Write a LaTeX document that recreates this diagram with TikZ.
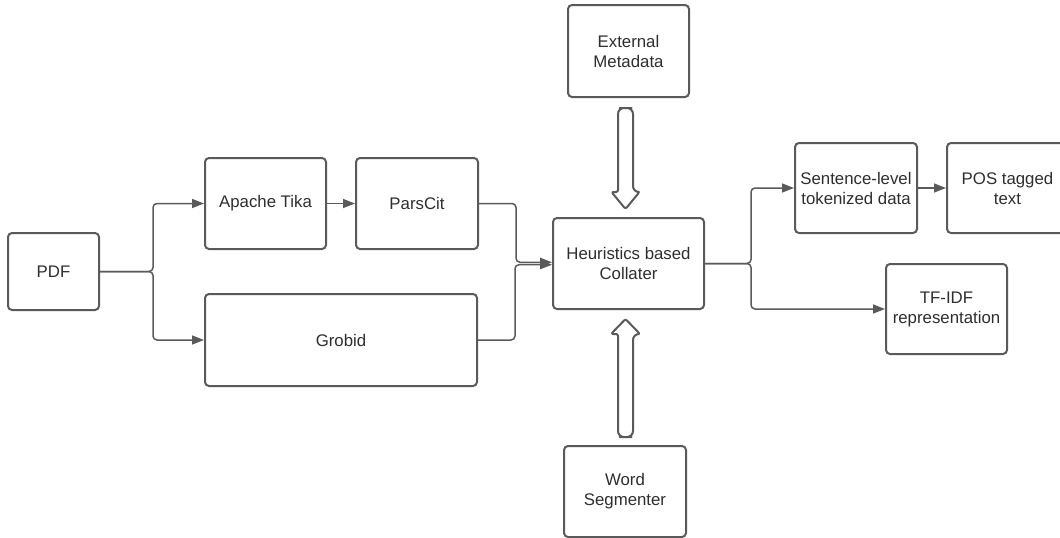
\documentclass[tikz,border=0pt]{standalone}
\usepackage{fontspec}
\setmainfont{Liberation Sans}
\usetikzlibrary{arrows.meta,calc}
\definecolor{linegray}{HTML}{5A5A5A}
\definecolor{textgray}{HTML}{2E2E2E}
\begin{document}
\begin{tikzpicture}[x=1pt,y=-1pt,
  box/.style={draw=linegray,line width=2pt,rounded corners=4pt,align=center,
    inner sep=2pt,text=textgray,font=\fontsize{16.8}{20}\selectfont},
  conn/.style={draw=linegray,line width=1.5pt,rounded corners=4pt,
    -{Triangle[length=12pt,width=9pt]}},
  hollow/.style={draw=linegray,line width=2pt,fill=white,line join=round}]
\useasboundingbox (0,0) rectangle (1060,538);
\node[box,minimum width=91pt,minimum height=77pt] (pdf) at (53.5,271.5) {PDF};
\node[box,minimum width=121pt,minimum height=91pt] (tika) at (265.5,203.5) {Apache Tika};
\node[box,minimum width=122pt,minimum height=91pt] (pars) at (417,203.5) {ParsCit};
\node[box,minimum width=272pt,minimum height=92pt] (grobid) at (341,340) {Grobid};
\node[box,minimum width=151pt,minimum height=91pt] (heur) at (628.5,263.5) {Heuristics based\\Collater};
\node[box,minimum width=121pt,minimum height=92pt] (ext) at (628.5,51) {External\\Metadata};
\node[box,minimum width=122pt,minimum height=91pt] (word) at (625,491.5) {Word\\Segmenter};
\node[box,minimum width=122pt,minimum height=90pt] (sent) at (856,188) {Sentence-level\\tokenized data};
\node[box,minimum width=121pt,minimum height=90pt] (pos) at (1007.5,188) {POS tagged\\text};
\node[box,minimum width=121pt,minimum height=90pt] (tfidf) at (946.5,309) {TF-IDF\\representation};
% connectors
\draw[conn] (pdf.east) -- ++(53,0) |- (tika.west);
\draw[conn] (pdf.east) -- ++(53,0) |- (grobid.west);
\draw[conn] (tika.east) -- (pars.west);
\draw[conn] (pars.east) -- ++(37,0) |- ($(heur.west)+(0,-1.2)$);
\draw[conn] (grobid.east) -- ++(37,0) |- ($(heur.west)+(0,1.2)$);
\draw[conn] (heur.east) -- ++(46,0) |- (sent.west);
\draw[conn] (heur.east) -- ++(46,0) |- (tfidf.west);
\draw[conn] (sent.east) -- (pos.west);
% hollow arrows
\coordinate (s1) at ($(ext.south)+(-3,10)$);
\coordinate (t1) at ($(heur.north)+(-3,-8)$);
\draw[hollow] ($(s1)+(0,0)$) [rounded corners=6pt] -- ($(s1)+(7.5,0)$) -- ($(t1)+(7.5,-17)$)
  [rounded corners=2pt] -- ($(t1)+(14,-17)$) -- (t1) -- ($(t1)+(-14,-17)$) -- ($(t1)+(-7.5,-17)$)
  [rounded corners=6pt] -- ($(s1)+(-7.5,0)$) -- cycle;
\coordinate (s2) at ($(word.north)+(0.5,-8)$);
\coordinate (t2) at ($(heur.south)+(-3,9)$);
\draw[hollow] ($(s2)+(0,0)$) [rounded corners=6pt] -- ($(s2)+(7.5,0)$) -- ($(t2)+(7.5,15)$)
  [rounded corners=2pt] -- ($(t2)+(14.5,15)$) -- (t2) -- ($(t2)+(-14.5,15)$) -- ($(t2)+(-7.5,15)$)
  [rounded corners=6pt] -- ($(s2)+(-7.5,0)$) -- cycle;
\end{tikzpicture}
\end{document}
